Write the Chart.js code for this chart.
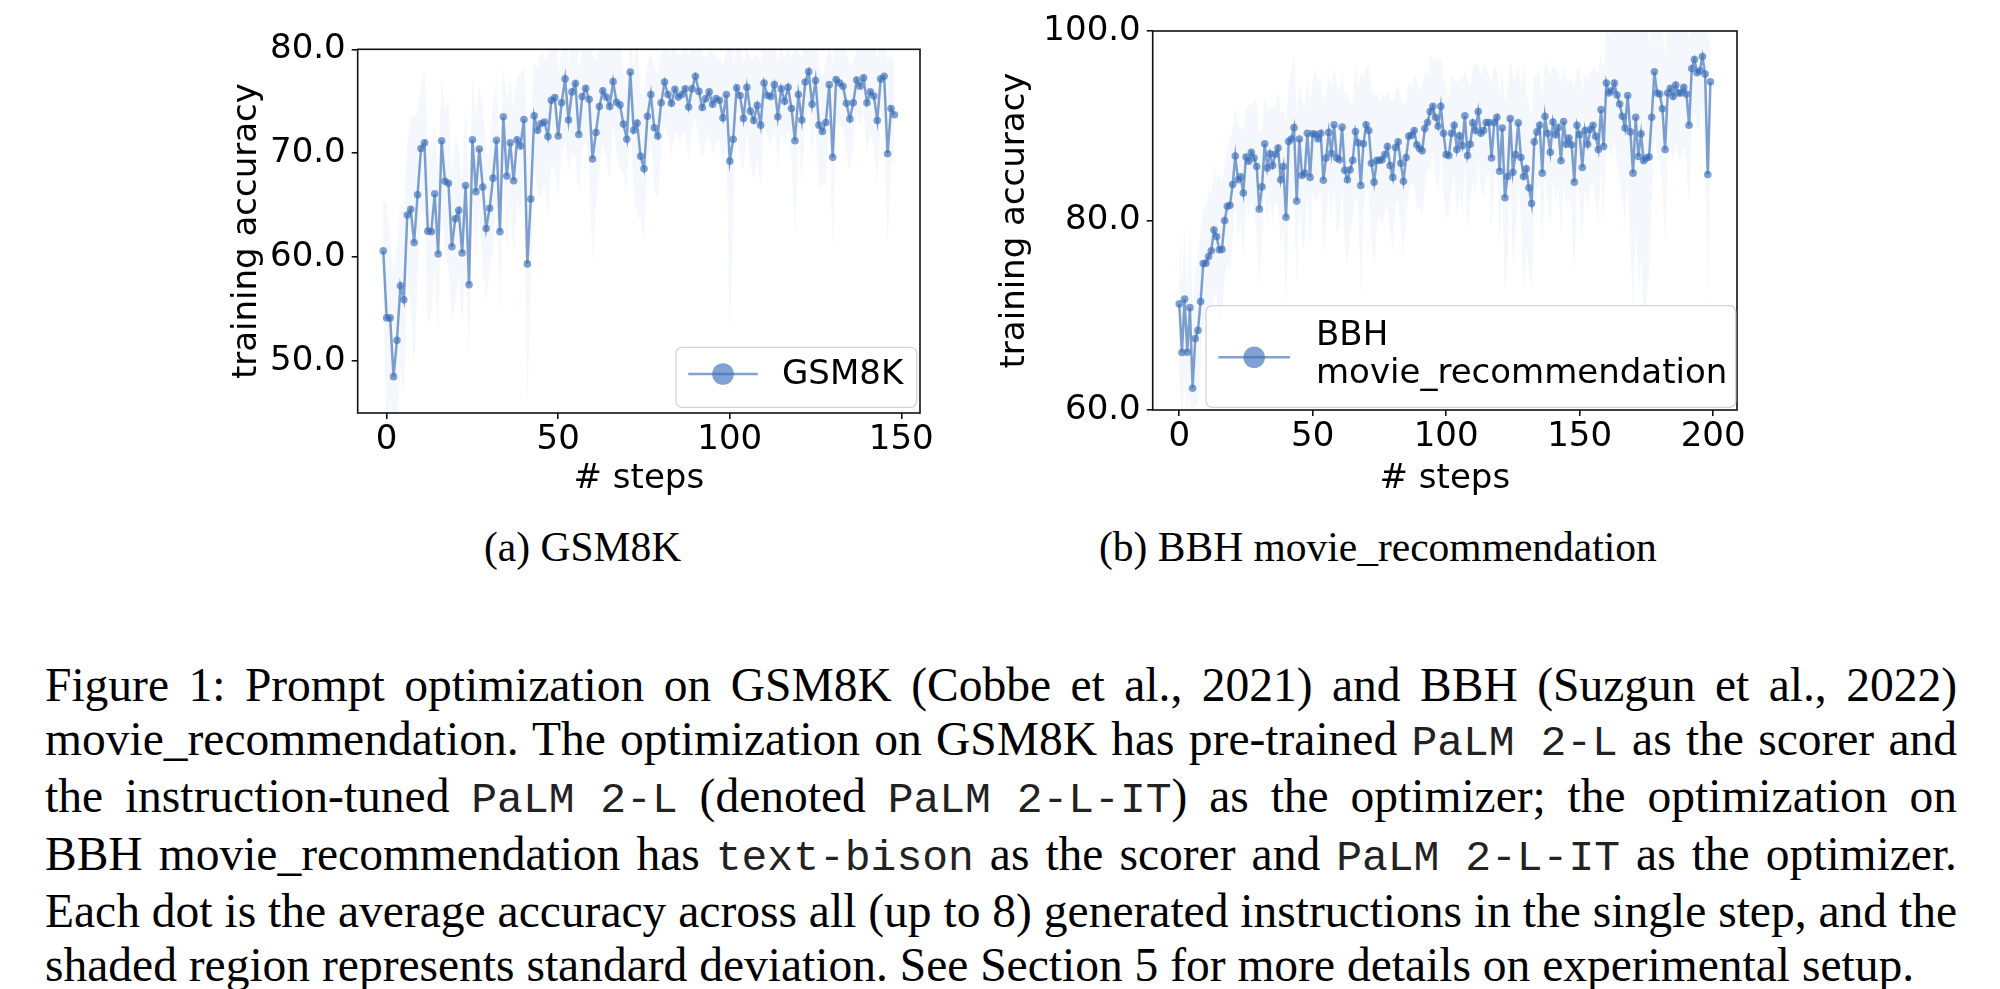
<!DOCTYPE html>
<html>
<head>
<meta charset="utf-8">
<script src="https://cdn.jsdelivr.net/npm/chart.js@4.4.0/dist/chart.umd.min.js"></script>
<style>
  body { margin: 0; background: #fff; width: 2000px; height: 989px; overflow: hidden; position: relative; }
  canvas { position: absolute; top: 0; }
  #cv_gsm { left: 180px; }
  #cv_bbh { left: 975px; }
  .sub { position: absolute; top: 527px; font-family: "Liberation Serif", serif; font-size: 41.5px; line-height: 1; white-space: nowrap; }
  .cap { position: absolute; left: 45px; top: 659px; width: 1912px; font-family: "Liberation Serif", serif; font-size: 47.5px; line-height: 53.5px; color: #000; }
  .cap div { text-align: justify; text-align-last: justify; }
  .cap div.last { text-align-last: left; }
  .tt { display: inline-block; font-family: "Liberation Mono", monospace; font-size: 43px; color: #222; }
</style>
</head>
<body>
<canvas id="cv_gsm" width="780" height="500"></canvas>
<canvas id="cv_bbh" width="800" height="500"></canvas>

<div class="sub" style="left:484px">(a) GSM8K</div>
<div class="sub" style="left:1099px">(b) BBH movie_recommendation</div>

<div class="cap">
  <div>Figure 1: Prompt optimization on GSM8K (Cobbe et al., 2021) and BBH (Suzgun et al., 2022)</div>
  <div>movie_recommendation. The optimization on GSM8K has pre-trained <span class="tt">PaLM 2-L</span> as the scorer and</div>
  <div>the instruction-tuned <span class="tt">PaLM 2-L</span> (denoted <span class="tt">PaLM 2-L-IT</span>) as the optimizer; the optimization on</div>
  <div>BBH movie_recommendation has <span class="tt">text-bison</span> as the scorer and <span class="tt">PaLM 2-L-IT</span> as the optimizer.</div>
  <div>Each dot is the average accuracy across all (up to 8) generated instructions in the single step, and the</div>
  <div class="last">shaded region represents standard deviation. See Section 5 for more details on experimental setup.</div>
</div>

<script>
// GSM8K: steps start at -1
const gsmStart = -1
const gsmAcc = [
  60.6, 54.15, 54.15, 48.5, 52.0, 57.25, 55.9, 64.05, 64.6, 61.4,
  66.0, 70.45, 71.0, 62.5, 62.45, 66.1, 60.3, 71.2, 67.3, 67.1,
  61.0, 63.7, 64.5, 60.4, 66.9, 57.35, 71.3, 66.3, 70.4, 66.75,
  62.75, 64.7, 67.6, 71.25, 62.45, 73.5, 67.8, 71.0, 67.35, 71.3,
  70.7, 73.25, 59.35, 65.6, 73.6, 72.2, 72.85, 73.0, 71.6, 75.1,
  75.35, 71.65, 74.85, 77.15, 73.2, 75.9, 76.7, 71.8, 75.45, 76.25,
  75.2, 69.45, 72.0, 74.5, 76.0, 75.4, 74.5, 76.9, 74.9, 74.65,
  72.8, 71.35, 77.8, 72.2, 72.9, 69.7, 68.5, 73.55, 75.65, 72.45,
  71.65, 74.85, 76.85, 75.65, 74.8, 76.15, 75.4, 75.65, 76.2, 74.45,
  76.2, 77.4, 75.95, 74.4, 75.25, 75.9, 74.7, 75.25, 75.1, 73.4,
  75.65, 69.25, 71.35, 76.3, 75.55, 73.35, 76.35, 74.05, 73.15, 74.6,
  72.7, 76.75, 75.55, 75.45, 76.6, 73.5, 76.2, 75.0, 76.35, 74.3,
  71.2, 75.65, 73.2, 76.85, 77.85, 74.7, 77.0, 72.7, 72.1, 72.95,
  76.6, 69.6, 77.1, 76.75, 76.45, 74.8, 73.3, 74.85, 77.05, 76.45,
  77.25, 74.85, 75.9, 75.5, 73.15, 77.15, 77.4, 69.95, 74.3, 73.7
]
const gsmStd = [
  5, 11, 8, 10, 9, 8, 9, 7, 9, 12,
  8, 6, 7, 9, 8, 7, 8, 6, 7, 8,
  7, 8, 6, 7, 8, 7, 6, 7, 6, 8,
  7, 6, 7, 6, 8, 5, 7, 6, 7, 6,
  7, 5, 14, 8, 5, 6, 7, 6, 8, 6,
  7, 6, 5, 6, 5, 6, 7, 6, 5, 5,
  6, 10, 7, 6, 5, 6, 7, 4, 5, 6,
  5, 5, 4, 6, 9, 6, 7, 5, 4, 6,
  6, 5, 4, 4, 5, 4, 4, 4, 4, 5,
  4, 4, 5, 5, 4, 4, 5, 4, 4, 5,
  4, 17, 7, 4, 6, 5, 4, 5, 6, 5,
  6, 4, 4, 5, 4, 5, 4, 4, 4, 5,
  9, 4, 6, 4, 3, 5, 4, 6, 5, 6,
  4, 9, 4, 4, 4, 5, 5, 4, 3, 4,
  3, 5, 4, 5, 6, 4, 4, 9, 5, 5
]

// BBH movie_recommendation: steps start at 0
const bbhStart = 0
const bbhAcc = [
  71.2, 66.07, 71.7, 66.1, 70.8, 62.3, 67.55, 68.4, 71.45, 75.45,
  75.5, 76.2, 76.8, 79.0, 78.3, 76.9, 76.95, 80.0, 81.5, 81.6,
  83.8, 86.8, 84.3, 84.6, 82.9, 86.7, 86.25, 87.2, 86.6, 85.7,
  81.2, 83.55, 88.1, 85.55, 87.05, 85.8, 87.0, 87.65, 84.3, 85.7,
  80.35, 88.35, 88.6, 89.8, 82.05, 88.6, 84.75, 85.0, 89.2, 84.55,
  89.15, 89.1, 88.6, 89.2, 84.25, 86.6, 89.3, 87.1, 90.1, 86.6,
  86.4, 89.85, 85.3, 84.3, 85.35, 86.35, 89.4, 88.2, 83.7, 88.1,
  90.1, 89.5, 86.05, 84.05, 86.35, 86.35, 86.4, 86.95, 87.8, 85.8,
  84.55, 87.7, 88.3, 86.05, 84.15, 86.65, 88.9, 89.0, 89.5, 88.0,
  87.6, 87.35, 89.7, 90.35, 91.5, 92.05, 90.9, 89.95, 92.05, 89.2,
  86.95, 86.85, 89.2, 90.05, 87.5, 88.95, 87.9, 91.05, 86.85, 88.05,
  90.3, 89.5, 91.5, 89.2, 89.5, 90.35, 90.35, 86.6, 90.35, 90.9,
  85.2, 89.75, 82.4, 84.65, 90.75, 85.1, 86.95, 90.3, 86.65, 84.65,
  85.45, 83.45, 81.8, 88.3, 89.35, 90.05, 85.0, 91.0, 89.2, 87.2,
  90.4, 89.05, 89.8, 86.3, 90.45, 88.05, 88.7, 88.0, 84.05, 90.05,
  89.05, 85.6, 89.5, 88.05, 89.6, 90.05, 88.9, 87.5, 91.7, 87.8,
  94.5, 93.45, 93.7, 94.5, 93.25, 92.3, 91.0, 89.75, 93.2, 89.35,
  85.0, 90.9, 86.75, 89.15, 86.3, 86.6, 86.7, 90.9, 95.7, 93.45,
  93.35, 91.8, 87.5, 93.45, 93.95, 93.1, 94.3, 93.45, 93.45, 94.05,
  93.35, 90.05, 96.05, 97.0, 95.6, 95.8, 97.3, 95.45, 84.85, 94.65
]
const bbhStd = [
  8, 7, 8, 6, 9, 8, 7, 8, 7, 6,
  6, 7, 6, 7, 6, 8, 7, 6, 6, 7,
  6, 5, 6, 5, 7, 5, 6, 5, 6, 7,
  8, 6, 5, 6, 5, 6, 5, 6, 7, 6,
  10, 6, 7, 8, 9, 6, 8, 7, 6, 8,
  6, 7, 6, 6, 8, 7, 6, 7, 6, 8,
  7, 6, 8, 9, 7, 6, 7, 6, 12, 7,
  6, 7, 8, 9, 7, 6, 7, 6, 6, 7,
  8, 6, 6, 7, 8, 6, 6, 5, 6, 7,
  6, 7, 6, 5, 6, 5, 6, 7, 5, 6,
  7, 6, 6, 5, 7, 6, 7, 5, 8, 6,
  6, 7, 5, 6, 7, 6, 5, 8, 6, 5,
  8, 6, 10, 9, 6, 10, 8, 6, 7, 12,
  8, 9, 9, 7, 6, 6, 8, 6, 7, 8,
  6, 7, 6, 8, 6, 7, 6, 7, 10, 6,
  7, 8, 6, 7, 6, 6, 7, 8, 6, 8,
  6, 6, 7, 6, 7, 8, 9, 10, 8, 12,
  15, 11, 14, 13, 16, 15, 12, 9, 6, 7,
  7, 8, 10, 7, 6, 7, 6, 7, 7, 6,
  7, 9, 6, 5, 6, 6, 5, 8, 14, 6
]

const gsmXTicks = [0, 50, 100, 150]
const gsmYTicks = [50, 60, 70, 80]
const bbhXTicks = [0, 50, 100, 150, 200]
const bbhYTicks = [60, 80, 100]

const lineColor = 'rgba(60, 110, 185, 0.65)'
const bandColor = 'rgba(74, 124, 190, 0.06)'
const fontFam = 'DejaVu Sans'
const fontSize = 34

// black box around the plot area, like matplotlib spines
const frameBox = {
  id: 'frameBox',
  afterDatasetsDraw(chart) {
    const { ctx, chartArea: a } = chart
    ctx.save()
    ctx.strokeStyle = '#111'
    ctx.lineWidth = 1.6
    ctx.strokeRect(a.left, a.top, a.right - a.left, a.bottom - a.top)
    ctx.restore()
  }
}

// legend box in the lower right corner of the plot area
const stepLegend = {
  id: 'stepLegend',
  afterDraw(chart, args, o) {
    const { ctx, chartArea: a } = chart
    const ds = chart.data.datasets[0]
    const x = a.right - o.right - o.w
    const y = a.bottom - o.bottom - o.h
    const r = 6
    ctx.save()
    ctx.beginPath()
    ctx.moveTo(x + r, y)
    ctx.lineTo(x + o.w - r, y)
    ctx.arcTo(x + o.w, y, x + o.w, y + r, r)
    ctx.lineTo(x + o.w, y + o.h - r)
    ctx.arcTo(x + o.w, y + o.h, x + o.w - r, y + o.h, r)
    ctx.lineTo(x + r, y + o.h)
    ctx.arcTo(x, y + o.h, x, y + o.h - r, r)
    ctx.lineTo(x, y + r)
    ctx.arcTo(x, y, x + r, y, r)
    ctx.closePath()
    ctx.fillStyle = 'rgba(255,255,255,0.8)'
    ctx.fill()
    ctx.strokeStyle = '#d4d4d4'
    ctx.lineWidth = 1.3
    ctx.stroke()

    ctx.strokeStyle = ds.borderColor
    ctx.lineWidth = ds.borderWidth
    ctx.beginPath()
    ctx.moveTo(x + o.hx0, y + o.hy)
    ctx.lineTo(x + o.hx1, y + o.hy)
    ctx.stroke()
    ctx.fillStyle = ds.pointBackgroundColor
    ctx.beginPath()
    ctx.arc(x + (o.hx0 + o.hx1) / 2, y + o.hy, o.mr, 0, Math.PI * 2)
    ctx.fill()

    ctx.fillStyle = '#000'
    ctx.font = fontSize + 'px "' + fontFam + '"'
    ctx.textBaseline = 'middle'
    ctx.textAlign = 'left'
    o.lines.forEach((t, k) => {
      ctx.fillText(t, x + o.tx, y + o.ty[k])
    })
    ctx.restore()
  }
}

function makeChart(id, acc, std, start, xr, yr, xTicks, yTicks, box, leg) {
  const mean = acc.map((v, i) => ({ x: start + i, y: v }))
  const upper = acc.map((v, i) => ({ x: start + i, y: v + std[i] }))
  const lower = acc.map((v, i) => ({ x: start + i, y: v - std[i] }))

  const axisFont = { family: fontFam, size: fontSize }
  const gridCfg = { drawOnChartArea: false, drawTicks: true, tickLength: 6, color: '#111', lineWidth: 1.6 }

  new Chart(document.getElementById(id), {
    type: 'line',
    data: {
      datasets: [
        {
          label: leg.lines.join(' '),
          data: mean,
          borderColor: lineColor,
          backgroundColor: lineColor,
          pointBackgroundColor: lineColor,
          borderWidth: 2.5,
          pointRadius: 3.8,
          pointBorderWidth: 0,
          tension: 0,
          fill: false
        },
        {
          data: upper,
          borderWidth: 0,
          pointRadius: 0,
          fill: false
        },
        {
          data: lower,
          borderWidth: 0,
          pointRadius: 0,
          backgroundColor: bandColor,
          fill: '-1'
        }
      ]
    },
    options: {
      responsive: false,
      animation: false,
      devicePixelRatio: 1,
      layout: { padding: { left: box.padLeft, top: box.padTop, right: box.padRight, bottom: 0 } },
      plugins: {
        legend: { display: false },
        tooltip: { enabled: false },
        stepLegend: leg
      },
      scales: {
        x: {
          type: 'linear',
          min: xr[0],
          max: xr[1],
          afterBuildTicks: s => { s.ticks = xTicks.map(v => ({ value: v })) },
          afterFit: s => { s.height = box.xHeight },
          grid: gridCfg,
          border: { display: false },
          ticks: { color: '#000', font: axisFont, padding: 1, maxRotation: 0, autoSkip: false, callback: v => String(v) },
          title: { display: true, text: '# steps', color: '#000', font: axisFont, padding: 0 }
        },
        y: {
          min: yr[0],
          max: yr[1],
          afterBuildTicks: s => { s.ticks = yTicks.map(v => ({ value: v })) },
          afterFit: s => { s.width = box.yWidth },
          grid: gridCfg,
          border: { display: false },
          ticks: { color: '#000', font: axisFont, padding: 6, autoSkip: false, callback: v => v.toFixed(1) },
          title: { display: true, text: 'training accuracy', color: '#000', font: axisFont, padding: 0 }
        }
      }
    },
    plugins: [frameBox, stepLegend]
  })
}

makeChart('cv_gsm', gsmAcc, gsmStd, gsmStart, [-8.45, 155.45], [45, 80], gsmXTicks, gsmYTicks,
  { padLeft: 47, padTop: 49.3, padRight: 40, yWidth: 130.7, xHeight: 87 },
  { lines: ['GSM8K'], w: 240.7, h: 60, right: 3.3, bottom: 5.7, hx0: 12.3, hx1: 81.7, hy: 26.7, mr: 10.8, tx: 106, ty: [28] })

makeChart('cv_bbh', bbhAcc, bbhStd, bbhStart, [-9.95, 208.95], [60, 100], bbhXTicks, bbhYTicks,
  { padLeft: 20.2, padTop: 31, padRight: 38, yWidth: 157.5, xHeight: 90 },
  { lines: ['BBH', 'movie_recommendation'], w: 529.7, h: 101.6, right: 1.3, bottom: 2.7, hx0: 12.3, hx1: 84, hy: 51.6, mr: 10.8, tx: 110, ty: [30, 68] })
</script>
</body>
</html>
